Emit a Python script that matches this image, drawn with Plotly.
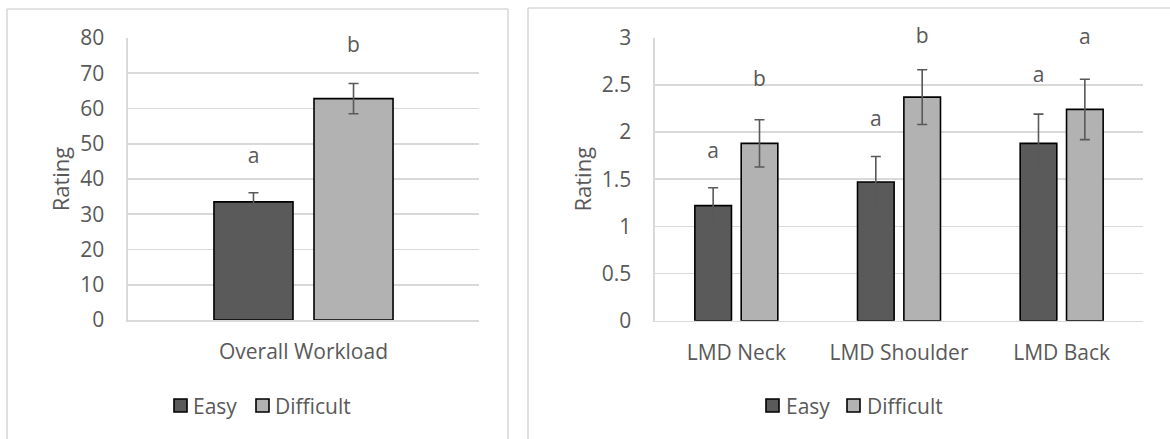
import plotly.graph_objects as go

# ---------------- data ----------------
series_names = ["Easy", "Difficult"]

overall_categories = ["Overall Workload"]
overall_easy = [33.5]
overall_easy_err = [2.6]
overall_difficult = [62.8]
overall_difficult_err = [4.3]
overall_easy_letters = ["a"]
overall_easy_letter_y = [46]
overall_difficult_letters = ["b"]
overall_difficult_letter_y = [77.5]

lmd_categories = ["LMD Neck", "LMD Shoulder", "LMD Back"]
lmd_easy = [1.22, 1.47, 1.88]
lmd_easy_err = [0.19, 0.27, 0.31]
lmd_difficult = [1.88, 2.37, 2.24]
lmd_difficult_err = [0.25, 0.29, 0.32]
lmd_easy_letters = ["a", "a", "a"]
lmd_easy_letter_y = [1.78, 2.12, 2.59]
lmd_difficult_letters = ["b", "b", "a"]
lmd_difficult_letter_y = [2.54, 3.0, 2.99]

overall_ticks = [0, 10, 20, 30, 40, 50, 60, 70, 80]
lmd_ticks = [0, 0.5, 1, 1.5, 2, 2.5, 3]

# ---------------- style ----------------
W, H = 1170, 439
FONT = "Open Sans"
FS = 21
TXT = "#595959"
GRID = "#d9d9d9"
COLORS = {"Easy": "#5a5a5a", "Difficult": "#b2b2b2"}
ERRC = "#595959"


def px(x):
    return x / W


def py(y):
    return 1 - y / H


fig = go.Figure()


def add_panel(cats, easy, easy_err, diff, diff_err, el, ely, dl, dly, xa, ya):
    for name, vals, errs, letters, ly in [
        ("Easy", easy, easy_err, el, ely),
        ("Difficult", diff, diff_err, dl, dly),
    ]:
        fig.add_trace(go.Bar(
            x=cats, y=vals, name=name, xaxis=xa, yaxis=ya,
            offsetgroup=name, showlegend=False,
            marker=dict(color=COLORS[name], line=dict(color="black", width=1.6)),
            error_y=dict(type="data", array=errs, color=ERRC, thickness=1.6, width=5),
        ))
        fig.add_trace(go.Scatter(
            x=cats, y=ly, mode="text", text=letters, xaxis=xa, yaxis=ya,
            offsetgroup=name, showlegend=False, hoverinfo="skip", cliponaxis=False,
            textfont=dict(family=FONT, size=FS, color=TXT),
        ))


add_panel(overall_categories, overall_easy, overall_easy_err, overall_difficult,
          overall_difficult_err, overall_easy_letters, overall_easy_letter_y,
          overall_difficult_letters, overall_difficult_letter_y, "x", "y")
add_panel(lmd_categories, lmd_easy, lmd_easy_err, lmd_difficult, lmd_difficult_err,
          lmd_easy_letters, lmd_easy_letter_y, lmd_difficult_letters,
          lmd_difficult_letter_y, "x2", "y2")

xcommon = dict(type="category", showline=True, linecolor=GRID, linewidth=1.6,
               showgrid=False, ticks="", ticklabelstandoff=12, automargin=False,
               tickfont=dict(family=FONT, size=FS, color=TXT), fixedrange=True)
ycommon = dict(showline=True, linecolor=GRID, linewidth=1.6, showgrid=True,
               gridcolor=GRID, gridwidth=1.6, zeroline=False, ticks="",
               ticklabelstandoff=18, automargin=False,
               tickfont=dict(family=FONT, size=FS, color=TXT),
               title=dict(text="Rating", font=dict(family=FONT, size=22, color=TXT),
                          standoff=4), fixedrange=True)

fig.update_layout(
    width=W, height=H, autosize=False,
    margin=dict(l=0, r=0, t=0, b=0, pad=0, autoexpand=False),
    paper_bgcolor="white", plot_bgcolor="white",
    barmode="group", bargap=0.43, bargroupgap=0.21,
    scattermode="group", scattergap=0.43,
    font=dict(family=FONT, color=TXT),
    hovermode=False,
    xaxis=dict(domain=[px(128), px(479)], anchor="y", **xcommon),
    yaxis=dict(domain=[py(320), py(38)], anchor="x", range=[0, 80],
               tickvals=overall_ticks, **ycommon),
    xaxis2=dict(domain=[px(655), px(1143)], anchor="y2", **xcommon),
    yaxis2=dict(domain=[py(320.7), py(37.7)], anchor="x2", range=[0, 3],
                tickvals=lmd_ticks, ticktext=[f"{t:g}" for t in lmd_ticks], **ycommon),
)

# panel borders (drawn as lines; bottoms/right run off the picture)
border = dict(color=GRID, width=1.6)
for x0, y0, x1, y1 in [
    (7, 9, 508, 9), (7, 9, 7, 439), (508, 9, 508, 439),   # left panel
    (528, 8, 1170, 8), (528, 8, 528, 439),                # right panel
]:
    fig.add_shape(type="line", xref="paper", yref="paper", x0=px(x0), x1=px(x1),
                  y0=py(y0), y1=py(y1), line=border, layer="below")

# manual legends (square + label), one per panel
legend_rows = [
    [(174, 193), (256, 275)],
    [(766, 786), (847, 867)],
]
for row in legend_rows:
    for name, (sx, tx) in zip(series_names, row):
        fig.add_shape(type="rect", xref="paper", yref="paper",
                      x0=px(sx), x1=px(sx + 13), y0=py(412), y1=py(399),
                      fillcolor=COLORS[name], line=dict(color="black", width=1.6))
        fig.add_annotation(xref="paper", yref="paper", x=px(tx - 2), y=py(405.5),
                           text=name, showarrow=False, xanchor="left", yanchor="middle",
                           font=dict(family=FONT, size=FS, color=TXT))

fig.write_html("out.html", config={"displayModeBar": False, "staticPlot": True},
               post_script="document.body.style.margin='0';")
